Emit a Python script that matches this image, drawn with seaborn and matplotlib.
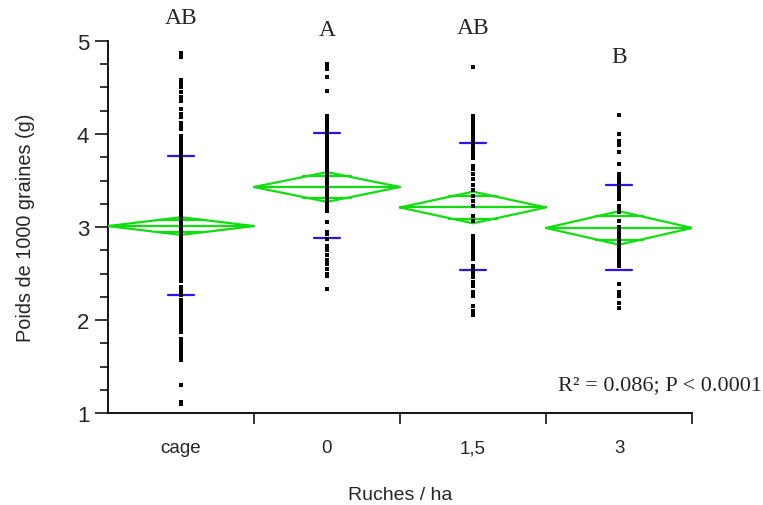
import matplotlib
matplotlib.use("Agg")
import matplotlib.pyplot as plt
import seaborn as sns
import numpy as np
import pandas as pd

# ---------------- data ----------------
categories = ["cage", "0", "1,5", "3"]

cage_vals = [4.87, 4.85, 4.83, 4.58, 4.55, 4.50, 4.45, 4.40, 4.36, 4.27, 4.22, 4.18,
             4.12, 4.08, 4.05, 3.98, 3.95, 3.90, 3.87, 3.83, 3.80, 3.76, 3.72, 3.70,
             3.66, 3.63, 3.60, 3.57, 3.55, 3.52, 3.48, 3.45, 3.42, 3.40, 3.37, 3.34,
             3.31, 3.28, 3.26, 3.23, 3.20, 3.18, 3.15, 3.12, 3.10, 3.08, 3.05, 3.02,
             3.00, 2.98, 2.95, 2.93, 2.90, 2.88, 2.85, 2.82, 2.80, 2.77, 2.74, 2.71,
             2.68, 2.65, 2.62, 2.58, 2.55, 2.52, 2.48, 2.45, 2.42, 2.36, 2.33, 2.30,
             2.27, 2.22, 2.18, 2.14, 2.10, 2.06, 2.02, 1.98, 1.95, 1.90, 1.87, 1.80,
             1.76, 1.72, 1.68, 1.64, 1.61, 1.57, 1.30, 1.12, 1.10]

zero_vals = [4.75, 4.72, 4.70, 4.61, 4.46, 4.19, 4.16, 4.12, 4.08, 4.05, 4.02, 3.99,
             3.96, 3.93, 3.90, 3.87, 3.84, 3.81, 3.78, 3.75, 3.72, 3.69, 3.65, 3.62,
             3.59, 3.56, 3.53, 3.50, 3.47, 3.44, 3.41, 3.38, 3.35, 3.32, 3.29, 3.26,
             3.23, 3.20, 3.17, 3.05, 2.95, 2.92, 2.87, 2.80, 2.75, 2.70, 2.65, 2.60,
             2.55, 2.50, 2.47, 2.33]

onefive_vals = [4.72, 4.19, 4.16, 4.13, 4.10, 4.07, 4.04, 4.01, 3.98, 3.95, 3.92,
                3.89, 3.86, 3.83, 3.80, 3.77, 3.74, 3.66, 3.62, 3.57, 3.52, 3.45,
                3.40, 3.33, 3.28, 3.23, 3.12, 3.06, 2.90, 2.86, 2.82, 2.78, 2.74,
                2.70, 2.66, 2.58, 2.54, 2.50, 2.46, 2.41, 2.37, 2.30, 2.26, 2.15,
                2.10, 2.05]

three_vals = [4.20, 4.00, 3.92, 3.88, 3.81, 3.68, 3.57, 3.54, 3.51, 3.48, 3.45, 3.42,
              3.39, 3.36, 3.33, 3.30, 3.23, 3.19, 3.16, 3.06, 3.00, 2.97, 2.94, 2.91,
              2.88, 2.85, 2.82, 2.79, 2.76, 2.73, 2.70, 2.67, 2.64, 2.61, 2.58, 2.39,
              2.30, 2.26, 2.18, 2.13]

# summary statistics
means = [3.01, 3.43, 3.21, 2.99]
ci_half = [0.095, 0.16, 0.17, 0.18]
sd_upper = [3.76, 4.01, 3.90, 3.455]
sd_lower = [2.27, 2.88, 2.54, 2.54]

letters = ["AB", "A", "AB", "B"]
letter_y = [5.25, 5.12, 5.14, 4.83]
stats_text = "R² = 0.086; P < 0.0001"

# ---------------- build frame ----------------
df = pd.DataFrame({
    "group": (["cage"] * len(cage_vals) + ["0"] * len(zero_vals)
              + ["1,5"] * len(onefive_vals) + ["3"] * len(three_vals)),
    "value": cage_vals + zero_vals + onefive_vals + three_vals,
})

sns.set_style("white")
plt.rcParams["font.family"] = ["Liberation Sans", "DejaVu Sans"]

fig = plt.figure(figsize=(7.63, 5.06), dpi=100)
ax = fig.add_axes([0.1415, 0.1818, 0.7655, 0.7352])

green = "#11dd11"
blue = "#3311ee"
serif = ["Liberation Serif", "DejaVu Serif"]

# diamonds, means, overlap marks, sd lines
for i, (m, h, su, sl) in enumerate(zip(means, ci_half, sd_upper, sd_lower)):
    xl, xr = i - 0.5, i + 0.5
    ax.plot([xl, i, xr, i, xl], [m, m + h, m, m - h, m], color=green, lw=1.6,
            solid_joinstyle="miter", zorder=3)
    ax.plot([xl, xr], [m, m], color=green, lw=1.6, zorder=3)
    ov = h / np.sqrt(2)
    half_w = 0.5 * (1 - 1 / np.sqrt(2)) * 1.1
    for yy in (m + ov, m - ov):
        ax.plot([i - half_w, i + half_w], [yy, yy], color=green, lw=1.6, zorder=3)
    for yy in (su, sl):
        ax.plot([i - 0.09, i + 0.09], [yy, yy], color=blue, lw=1.6, zorder=4)

sns.stripplot(data=df, x="group", y="value", order=categories, jitter=False,
              color="black", marker="s", size=2.8, linewidth=0, ax=ax, zorder=5)

ax.set_xlim(-0.5, 3.5)
ax.set_ylim(1, 5)

# letters above groups
for i, (lab, ly) in enumerate(zip(letters, letter_y)):
    ax.text(i, ly, lab, ha="center", va="center", fontsize=17,
            family=serif, clip_on=False)

ax.text(3.98, 1.30, stats_text, ha="right", va="center", fontsize=16,
        family=serif, clip_on=False)

# axes styling
for s in ["top", "right"]:
    ax.spines[s].set_visible(False)
for s in ["left", "bottom"]:
    ax.spines[s].set_linewidth(1.3)
    ax.spines[s].set_color("black")

ax.set_yticks([1, 2, 3, 4, 5])
ax.set_yticks(np.arange(1, 5.01, 0.25), minor=True)
ax.tick_params(axis="y", which="major", length=9.4, width=1.3, direction="out",
               labelsize=16, left=True, pad=4)
ax.tick_params(axis="y", which="minor", length=5.8, width=1.3, direction="out", left=True)

ax.set_xticks(range(len(categories)))
ax.set_xticklabels(categories)
ax.set_xticks([0.5, 1.5, 2.5, 3.5], minor=True)
ax.tick_params(axis="x", which="major", length=0, labelsize=13.5, pad=19)
ax.tick_params(axis="x", which="minor", length=8, width=1.3, direction="out", bottom=True)

ax.set_xlabel("Ruches / ha", fontsize=14, labelpad=21.5)
ax.set_ylabel("Poids de 1000 graines (g)", fontsize=14.3, labelpad=30)

fig.savefig("out.png", dpi=100)
